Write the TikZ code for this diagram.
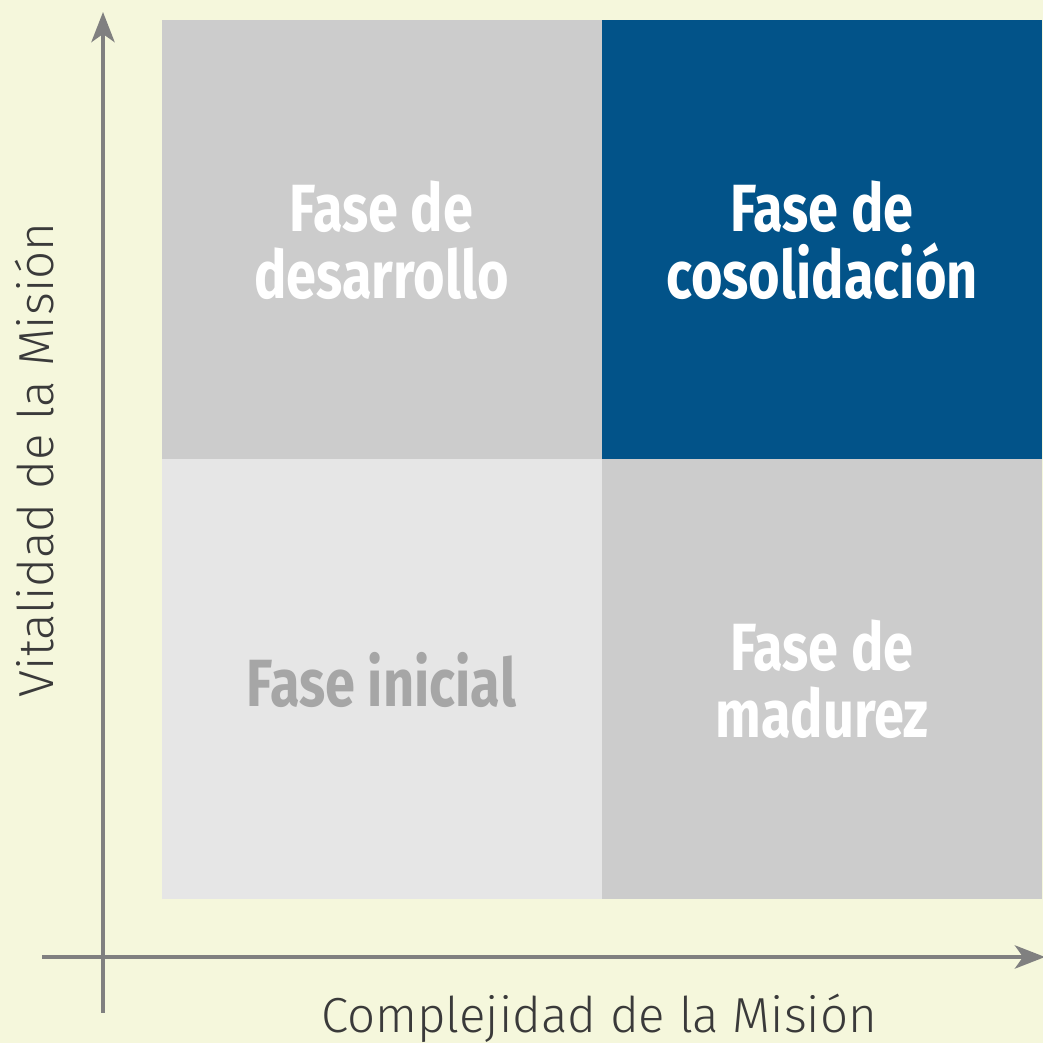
\documentclass[tikz,border=0pt]{standalone}
\usepackage{fontspec}
\setmainfont{Fira Sans}
\newfontfamily\phasefont{Fira Sans}[FakeStretch=0.81]
\newfontfamily\axisfont{Fira Sans Light}
\usetikzlibrary{arrows.meta}
\definecolor{paper}{RGB}{245,247,220}
\definecolor{quadgray}{RGB}{204,204,204}
\definecolor{quadlight}{RGB}{230,230,230}
\definecolor{quadblue}{RGB}{2,83,137}
\definecolor{axisgray}{RGB}{128,128,128}
\definecolor{labelgray}{RGB}{166,166,166}
\definecolor{textdark}{RGB}{58,58,58}
\tikzset{quad/.style={minimum width=4.40cm,minimum height=4.40cm,inner sep=0pt,align=center,text=white,font=\phasefont\bfseries\fontsize{19}{19}\selectfont}}

\begin{document}
\begin{tikzpicture}[axis/.style={line width=1.4pt,axisgray},axislabel/.style={text=textdark,font=\axisfont\fontsize{14}{14}\selectfont}]
\useasboundingbox[fill=paper] (0,0) rectangle (10.43,10.43);
% draw quadrants
\node[quad,fill=quadgray] (desarrollo) at (3.815,8.03) {Fase de\\desarrollo};
\node[quad,fill=quadblue] (consolidacion) at (8.22,8.03) {Fase de\\cosolidación};
\node[quad,fill=quadlight,text=labelgray] (inicial) at (3.815,3.635) {Fase inicial};
\node[quad,fill=quadgray] (madurez) at (8.22,3.635) {Fase de\\madurez};
% draw axes
\coordinate (ybottom) at (1.03,0.30);
\coordinate (ytop) at (1.03,10.31);
\coordinate (xleft) at (0.42,0.86);
\coordinate (xright) at (10.45,0.86);
\draw[axis,-{Stealth[length=3mm,width=2.3mm,inset=0.8mm]}] (ybottom) -- (ytop);
\draw[axis,-{Stealth[length=3mm,width=2.3mm,inset=0.8mm]}] (xleft) -- (xright);
% axis labels
\node[axislabel] (xlabel) at (5.99,0.25) {Complejidad de la Misión};
\node[axislabel,rotate=90] (ylabel) at (0.35,5.83) {Vitalidad de la Misión};
\end{tikzpicture}
\end{document}
